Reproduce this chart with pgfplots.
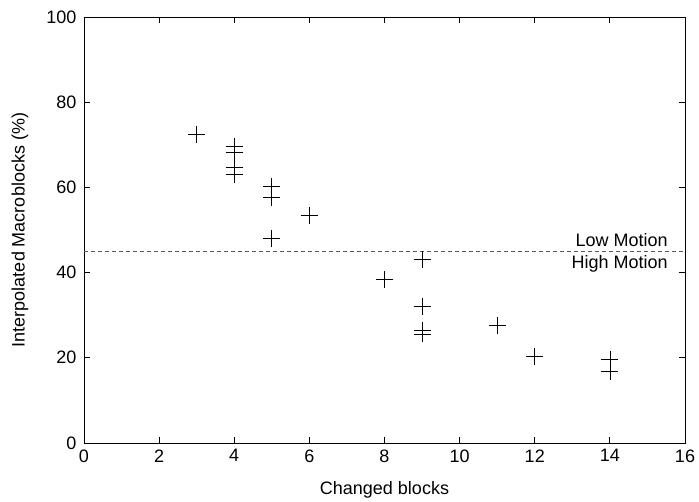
\documentclass[border=0pt]{standalone}
\usepackage{pgfplots}
\pgfplotsset{compat=1.18}
\usepackage{fontspec}
\setmainfont{Liberation Sans}
\begin{document}
\begin{tikzpicture}[font=\fontsize{18bp}{20bp}\selectfont]
\begin{axis}[
  scale only axis,
  width=601bp, height=426bp,
  xmin=0, xmax=16, ymin=0, ymax=100,
  xtick={0,2,...,16}, ytick={0,20,...,100},
  tick align=inside,
  major tick length=6bp,
  axis line style={line width=0.8bp},
  tick style={line width=0.8bp, black},
  tick label style={font=\fontsize{18bp}{20bp}\selectfont},
  label style={font=\fontsize{18bp}{20bp}\selectfont},
  /pgf/number format/assume math mode=true,
  xlabel={Changed blocks},
  ylabel={Interpolated Macroblocks (\%)},
  xlabel style={at={(axis description cs:0.5,0)}, anchor=center, yshift=-47bp},
  ylabel style={at={(axis description cs:0,0.5)}, anchor=center, yshift=64bp},
  xticklabel style={yshift=-3bp},
  yticklabel style={xshift=-4bp},
  clip=false,
]
\addplot[only marks, mark=+, mark size=8.5bp, mark options={line width=0.7bp}, black] coordinates {
(3,72.5)
(4,69.6) (4,68.2) (4,64.6) (4,63.1)
(5,60.2) (5,57.6) (5,48.0)
(6,53.5)
(8,38.4)
(9,43.1) (9,32.1) (9,26.4) (9,25.6)
(11,27.6)
(12,20.4)
(14,19.7) (14,16.9)
};
\addplot[black!65, dash pattern=on 4bp off 3bp, line width=0.8bp] coordinates {(0,45) (16,45)};
\node[anchor=south east, inner sep=1bp, yshift=3bp] at (axis cs:15.57,45) {Low Motion};
\node[anchor=north east, inner sep=1bp, yshift=-3bp] at (axis cs:15.57,45) {High Motion};
\end{axis}
\path[use as bounding box] ([xshift=-84bp,yshift=-54bp]current axis.south west) rectangle ([xshift=14bp,yshift=17bp]current axis.north east);
\end{tikzpicture}
\end{document}
